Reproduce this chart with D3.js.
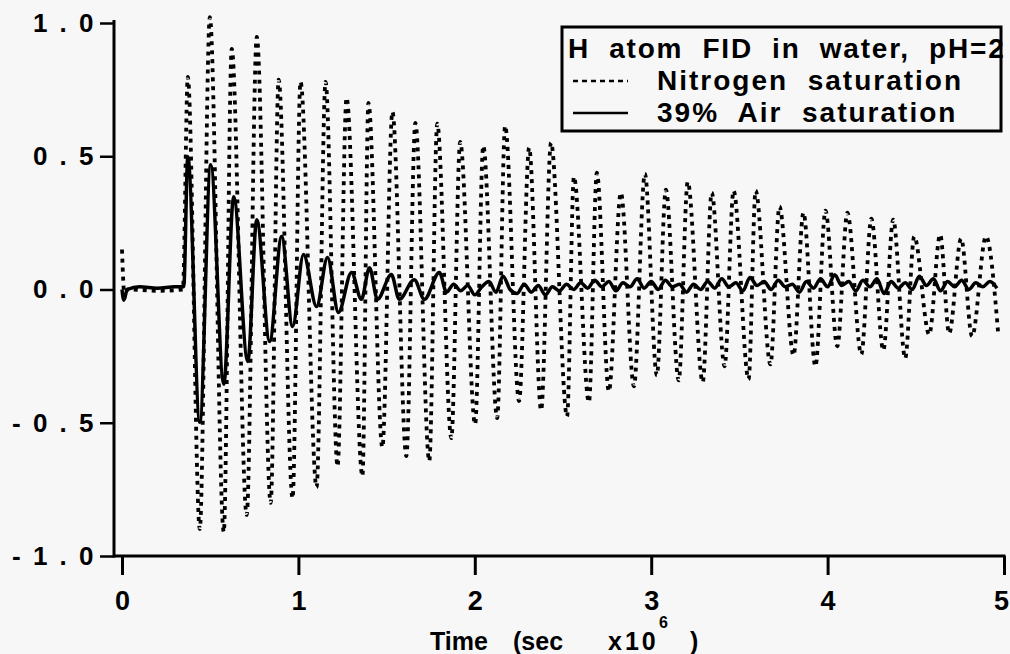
<!DOCTYPE html>
<html>
<head>
<meta charset="utf-8">
<script src="https://cdn.jsdelivr.net/npm/d3@7"></script>
<style>
  body { margin: 0; background: #f7f7f7; }
  svg { display: block; }
  text { font-family: "Liberation Sans", Arial, sans-serif; font-weight: bold; fill: #000; }
</style>
</head>
<body>
<svg width="1010" height="654"></svg>
<script>
// nitrogen saturation FID: turning points (time x10^6 s, signal)
var nitrogenT = [0, 0.015, 0.03, 0.2, 0.345,
  0.373, 0.441, 0.498, 0.577, 0.622, 0.707, 0.764, 0.843, 0.888, 0.967,
  1.012, 1.103, 1.154, 1.222, 1.273, 1.363, 1.397, 1.476, 1.533, 1.612,
  1.663, 1.742, 1.787, 1.867, 1.917, 2.002, 2.048, 2.127, 2.172, 2.251,
  2.308, 2.376, 2.432, 2.523, 2.562, 2.647, 2.692, 2.760, 2.828, 2.902,
  2.964, 3.032, 3.083, 3.156, 3.207, 3.292, 3.343, 3.416, 3.467, 3.552,
  3.592, 3.676, 3.727, 3.807, 3.863, 3.931, 3.988, 4.055, 4.112, 4.191,
  4.248, 4.316, 4.372, 4.440, 4.491, 4.576, 4.638, 4.689, 4.757, 4.819,
  4.898, 4.966];
var nitrogenV = [0.15, -0.03, 0.0, -0.005, 0.0,
  0.798, -0.899, 1.022, -0.910, 0.903, -0.846, 0.948, -0.801, 0.787, -0.783,
  0.779, -0.742, 0.779, -0.663, 0.719, -0.700, 0.700, -0.592, 0.667, -0.625,
  0.625, -0.644, 0.622, -0.558, 0.554, -0.506, 0.539, -0.483, 0.614, -0.419,
  0.532, -0.453, 0.551, -0.476, 0.423, -0.423, 0.438, -0.382, 0.363, -0.363,
  0.434, -0.322, 0.375, -0.341, 0.404, -0.348, 0.363, -0.288, 0.371, -0.337,
  0.371, -0.281, 0.311, -0.247, 0.288, -0.288, 0.296, -0.213, 0.288, -0.243,
  0.266, -0.228, 0.262, -0.258, 0.199, -0.169, 0.206, -0.165, 0.191, -0.176,
  0.199, -0.157];

// 39% air saturation FID
var airT = [0, 0.01, 0.03, 0.1, 0.2, 0.3, 0.35,
  0.373, 0.441, 0.503, 0.577, 0.633, 0.713, 0.764, 0.837, 0.905, 0.967,
  1.029, 1.103, 1.165, 1.227, 1.301, 1.357, 1.403, 1.448, 1.527, 1.572,
  1.657, 1.714, 1.799,
  1.84, 1.88, 1.92, 1.96, 2.00, 2.04, 2.08, 2.12, 2.16, 2.20,
  2.24, 2.28, 2.32, 2.36, 2.40, 2.44, 2.48, 2.52, 2.56, 2.60,
  2.64, 2.68, 2.72, 2.76, 2.80, 2.84, 2.88, 2.92, 2.96, 3.00,
  3.04, 3.08, 3.12, 3.16, 3.20, 3.24, 3.28, 3.32, 3.36, 3.40,
  3.44, 3.48, 3.52, 3.56, 3.60, 3.64, 3.68, 3.72, 3.76, 3.80,
  3.84, 3.88, 3.92, 3.96, 4.00, 4.04, 4.08, 4.12, 4.16, 4.20,
  4.24, 4.28, 4.32, 4.36, 4.40, 4.44, 4.48, 4.52, 4.56, 4.60,
  4.64, 4.68, 4.72, 4.76, 4.80, 4.84, 4.88, 4.92, 4.96];
var airV = [0, -0.04, 0.0, 0.01, 0.005, 0.01, 0.01,
  0.498, -0.498, 0.468, -0.356, 0.348, -0.27, 0.262, -0.195, 0.199, -0.139,
  0.131, -0.064, 0.12, -0.086, 0.064, -0.037, 0.082, -0.037, 0.056, -0.037,
  0.037, -0.037, 0.064,
  -0.01, 0.02, -0.005, 0.015, -0.02, 0.01, 0.03, -0.01, 0.05, 0.0,
  -0.015, 0.02, -0.01, 0.015, -0.02, 0.01, -0.005, 0.02, 0.0, 0.025,
  0.005, 0.035, 0.01, 0.03, -0.005, 0.025, 0.01, 0.04, 0.005, 0.03,
  0.0, 0.035, 0.01, 0.02, -0.01, 0.02, 0.0, 0.03, 0.005, 0.04,
  0.01, 0.025, -0.005, 0.045, 0.015, 0.03, 0.0, 0.035, 0.01, 0.02,
  -0.01, 0.03, 0.005, 0.04, 0.01, 0.055, 0.015, 0.03, -0.005, 0.035,
  0.01, 0.04, -0.015, 0.03, 0.005, 0.025, 0.0, 0.05, 0.015, 0.04,
  -0.005, 0.03, 0.01, 0.035, 0.0, 0.025, 0.01, 0.03, 0.005];

var xTicks = [0, 1, 2, 3, 4, 5];
var yTicks = [-1, -0.5, 0, 0.5, 1];
var yTickLabels = ["- 1 . 0", "- 0 . 5", "0 . 0", "0 . 5", "1 . 0"];

var legendTitle = "H  atom  FID  in  water,  pH=2";
var legendNames = ["Nitrogen  saturation", "39%  Air  saturation"];

var svg = d3.select("svg");

var x = d3.scaleLinear().domain([0, 5]).range([122, 1004]);
var y = d3.scaleLinear().domain([-1, 1]).range([556, 23]);
var axisX0 = 114;

// axes
var xAxis = svg.append("g")
  .attr("transform", "translate(0," + y(-1) + ")")
  .call(d3.axisBottom(x).tickValues(xTicks).tickSize(19).tickPadding(16)
    .tickFormat(d3.format("d")));
xAxis.select(".domain").remove();
xAxis.selectAll("line").attr("stroke-width", 3);
xAxis.selectAll("text").attr("font-size", 27).attr("font-family", null)
  .attr("dx", function(d) { return d === 5 ? -3 : 0; });

var yAxis = svg.append("g")
  .attr("transform", "translate(" + axisX0 + ",0)")
  .call(d3.axisLeft(y).tickValues(yTicks).tickSize(14).tickPadding(4)
    .tickFormat(function(d, i) { return yTickLabels[i]; }));
yAxis.select(".domain").remove();
yAxis.selectAll("line").attr("stroke-width", 2.5);
yAxis.selectAll("text").attr("font-size", 26).attr("font-family", null)
  .attr("letter-spacing", 2.5)
  .style("white-space", "pre");

svg.append("line")
  .attr("x1", axisX0).attr("x2", axisX0)
  .attr("y1", y(1) - 3).attr("y2", y(-1) + 1.5)
  .attr("stroke", "#000").attr("stroke-width", 3);
svg.append("line")
  .attr("x1", axisX0).attr("x2", x(5) + 1.5)
  .attr("y1", y(-1)).attr("y2", y(-1))
  .attr("stroke", "#000").attr("stroke-width", 3);

// axis title with superscript
var title = svg.append("g").attr("font-size", 25);
title.append("text").attr("x", 430).attr("y", 650).text("Time");
title.append("text").attr("x", 513).attr("y", 650).text("(sec");
title.append("text").attr("x", 608).attr("y", 650).attr("letter-spacing", 3).text("x10");
title.append("text").attr("x", 659).attr("y", 628).attr("font-size", 16).text("6");
title.append("text").attr("x", 690).attr("y", 650).text(")");

// series
var line = d3.line()
  .x(function(d) { return x(d[0]); })
  .y(function(d) { return y(d[1]); })
  .curve(d3.curveMonotoneX);

var nitrogen = nitrogenT.map(function(t, i) { return [t, nitrogenV[i]]; });
var air = airT.map(function(t, i) { return [t, airV[i]]; });

svg.append("path")
  .datum(nitrogen)
  .attr("d", line)
  .attr("fill", "none")
  .attr("stroke", "#000")
  .attr("stroke-width", 3.8)
  .attr("stroke-dasharray", "4,5");

svg.append("path")
  .datum(air)
  .attr("d", line)
  .attr("fill", "none")
  .attr("stroke", "#000")
  .attr("stroke-width", 3.5)
  .attr("stroke-linejoin", "round");

// legend
var lg = svg.append("g");
lg.append("rect")
  .attr("x", 562).attr("y", 27).attr("width", 439).attr("height", 104)
  .attr("fill", "#f7f7f7").attr("stroke", "#000").attr("stroke-width", 3);
lg.append("text")
  .attr("x", 568).attr("y", 58)
  .attr("font-size", 28).attr("letter-spacing", 1.8)
  .style("white-space", "pre")
  .text(legendTitle);
lg.append("line")
  .attr("x1", 573).attr("x2", 628).attr("y1", 81).attr("y2", 81)
  .attr("stroke", "#000").attr("stroke-width", 2.5).attr("stroke-dasharray", "5,4");
lg.append("line")
  .attr("x1", 573).attr("x2", 628).attr("y1", 113).attr("y2", 113)
  .attr("stroke", "#000").attr("stroke-width", 2.5);
lg.selectAll(".lname")
  .data(legendNames)
  .enter().append("text")
  .attr("class", "lname")
  .attr("x", 657)
  .attr("y", function(d, i) { return 90 + i * 32; })
  .attr("font-size", 28).attr("letter-spacing", 2)
  .style("white-space", "pre")
  .text(function(d) { return d; });
</script>
</body>
</html>
